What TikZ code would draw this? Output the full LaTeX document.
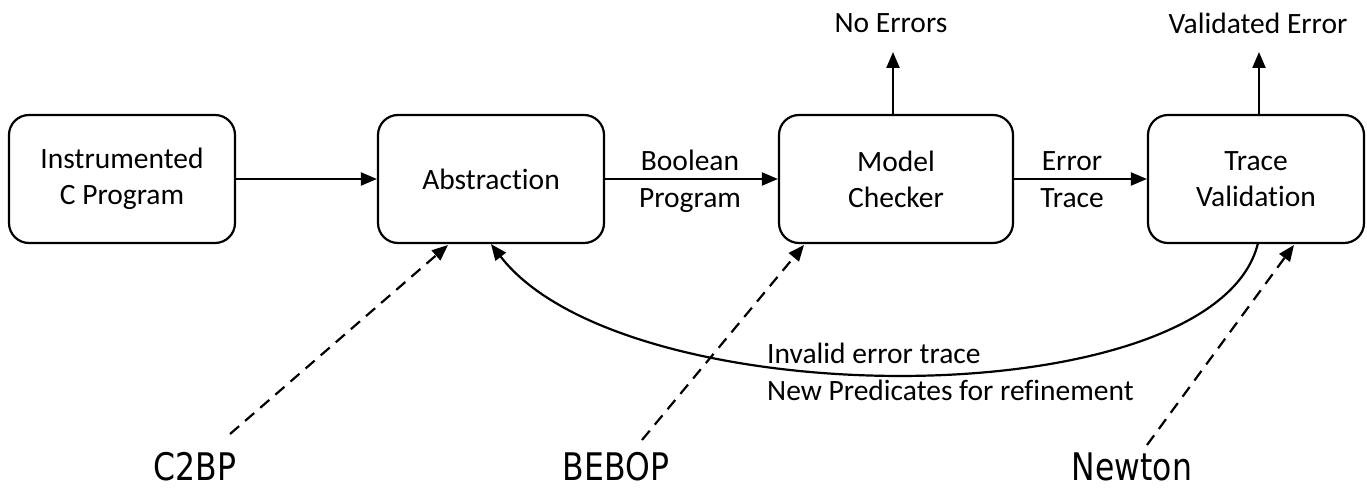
\documentclass[tikz,border=0pt]{standalone}
\usepackage{fontspec}
\setmainfont{Carlito}[RawFeature={-liga;-calt;-clig;-dlig}]
\newfontfamily\bigfont{DejaVu Sans Condensed}
\usetikzlibrary{arrows.meta}
\begin{document}
\begin{tikzpicture}[x=1pt,y=-1pt,
 box/.style={draw,line width=2.2pt,rounded corners=20pt,minimum height=128pt,align=center,inner sep=0pt,font=\fontsize{29.5}{36}\selectfont},
 lbl/.style={align=center,inner sep=0pt,font=\fontsize{29.5}{37}\selectfont},
 arr/.style={line width=2.2pt,-{Triangle[length=16pt,width=13pt]}},
 darr/.style={arr,dash pattern=on 12pt off 8pt},
 tool/.style={inner sep=0pt,font=\bigfont\fontsize{38}{42}\selectfont,anchor=base}
]
\useasboundingbox[fill=white] (0,0) rectangle (1367,489);

\node[box,minimum width=226pt] (b1) at (122,179) {Instrumented\\C Program};
\node[box,minimum width=226pt] (b2) at (491,179) {Abstraction};
\node[box,minimum width=234pt] (b3) at (896,179) {Model\\Checker};
\node[box,minimum width=216pt] (b4) at (1256,179) {Trace\\Validation};

\node[lbl] (bp) at (690,181) {Boolean\\Program};
\node[lbl] (et) at (1072,180) {Error\\Trace};
\node[lbl] (ne) at (891,23) {No Errors};
\node[lbl] (ve) at (1258,23) {Validated Error};
\node[lbl,align=left,anchor=west] (inv) at (767,371.5) {Invalid error trace\\New Predicates for refinement};

\coordinate (neTip) at (893,52);
\coordinate (veTip) at (1259,52);

\draw[arr] (b1.east) -- (b2.west);
\draw[arr] (b2.east) -- (b3.west);
\draw[arr] (b3.east) -- (b4.west);
\draw[arr] (b3.north -| neTip) -- (neTip);
\draw[arr] (b4.north -| veTip) -- (veTip);

\coordinate (cs) at (1258,243);
\draw[arr] (cs) .. controls (1216,418) and (625,418) .. (b2.south);

\node[tool] (c2bp) at (195,480) {\scalebox{0.92}[1]{C2BP}};
\node[tool] (bebop) at (616,480) {\scalebox{0.92}[1]{BEBOP}};
\node[tool] (newton) at (1132,480) {\scalebox{0.92}[1]{Newton}};

\coordinate (d1s) at (230,434);
\coordinate (d1t) at (448,245);
\coordinate (d2s) at (642,440);
\coordinate (d2t) at (804,245);
\coordinate (d3s) at (1147,445);
\coordinate (d3t) at (1294,245);
\draw[darr] (d1s) -- (d1t);
\draw[darr] (d2s) -- (d2t);
\draw[darr] (d3s) -- (d3t);
\end{tikzpicture}
\end{document}
